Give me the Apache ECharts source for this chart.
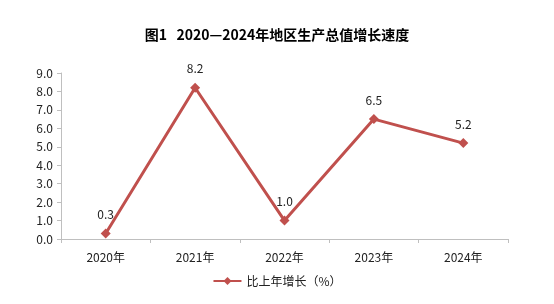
<!DOCTYPE html>
<html>
<head>
<meta charset="utf-8">
<script src="https://cdn.jsdelivr.net/npm/echarts@6/dist/echarts.min.js"></script>
<style>
  html, body { margin: 0; padding: 0; background: #fff; }
  #chart { width: 554px; height: 304px; }
</style>
</head>
<body>
<div id="chart"></div>
<script>
// 数据
const categories = ['2020年', '2021年', '2022年', '2023年', '2024年']
const growthValues = [0.3, 8.2, 1.0, 6.5, 5.2]
const seriesName = '比上年增长（%）'
const titleText = '图1   2020—2024年地区生产总值增长速度'

const font = '"Noto Sans CJK SC", "Liberation Sans", sans-serif'
const lineColor = '#C0504D'
const axisColor = '#BFBFBF'

const chart = echarts.init(document.getElementById('chart'))
chart.setOption({
  animation: false,
  title: {
    text: titleText,
    left: 'center',
    top: 23,
    textStyle: { fontFamily: font, fontSize: 14, fontWeight: 'bold', color: '#000' }
  },
  grid: { left: 61, right: 46, top: 73, bottom: 65 },
  legend: {
    bottom: 12,
    left: 'center',
    itemWidth: 28,
    itemHeight: 10,
    itemGap: 4,
    textStyle: { fontFamily: font, fontSize: 12, color: '#222' },
    data: [seriesName]
  },
  xAxis: {
    type: 'category',
    data: categories,
    boundaryGap: true,
    axisLine: { lineStyle: { color: axisColor, width: 1 } },
    axisTick: { show: true, alignWithLabel: false, length: 4, lineStyle: { color: axisColor } },
    axisLabel: { fontFamily: font, fontSize: 12, color: '#222', margin: 12 }
  },
  yAxis: {
    type: 'value',
    min: 0,
    max: 9,
    interval: 1,
    axisLine: { show: true, lineStyle: { color: axisColor, width: 1 } },
    axisTick: { show: true, length: 4, lineStyle: { color: axisColor } },
    splitLine: { show: false },
    axisLabel: {
      fontFamily: font, fontSize: 12, color: '#222', margin: 8,
      formatter: v => v.toFixed(1)
    }
  },
  series: [
    {
      name: seriesName,
      type: 'line',
      data: growthValues,
      symbol: 'diamond',
      symbolSize: 10,
      itemStyle: { color: lineColor },
      lineStyle: { color: lineColor, width: 3 },
      label: {
        show: true,
        position: 'top',
        distance: 8,
        fontFamily: font,
        fontSize: 12,
        color: '#222',
        formatter: p => p.value.toFixed(1)
      }
    }
  ]
})
</script>
</body>
</html>
